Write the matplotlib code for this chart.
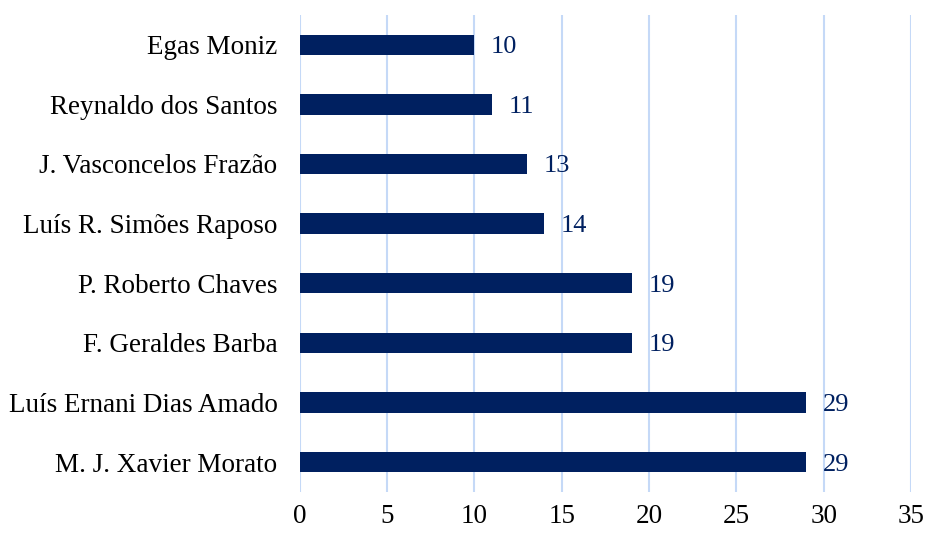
import matplotlib.pyplot as plt

# data, listed bottom to top as drawn
names = ["M. J. Xavier Morato", "Luís Ernani Dias Amado", "F. Geraldes Barba",
         "P. Roberto Chaves", "Luís R. Simões Raposo", "J. Vasconcelos Frazão",
         "Reynaldo dos Santos", "Egas Moniz"]
counts = [29, 29, 19, 19, 14, 13, 11, 10]
x_ticks = [0, 5, 10, 15, 20, 25, 30, 35]

plt.rcParams['font.family'] = ['Liberation Serif', 'DejaVu Serif']

fig = plt.figure(figsize=(9.25, 5.33), dpi=100)
ax = fig.add_axes([0.324, 0.077, 0.661, 0.895])

bars = ax.barh(names, counts, height=0.34, color="#002060", zorder=3)
labels = ax.bar_label(bars, padding=12, color="#002060", fontsize=19)
for t in labels:
    t.set_va("center_baseline")

ax.set_xlim(0, 35)
ax.set_ylim(-0.5, len(names) - 0.5)
ax.set_xticks(x_ticks)
ax.grid(axis="x", color="#C5D9F7", linewidth=1.5, zorder=0)
for s in ax.spines.values():
    s.set_visible(False)
ax.tick_params(axis="both", length=0, labelsize=19.5)
ax.tick_params(axis="x", pad=9)
ax.tick_params(axis="y", pad=16)

fig.savefig("out.png", dpi=100)
